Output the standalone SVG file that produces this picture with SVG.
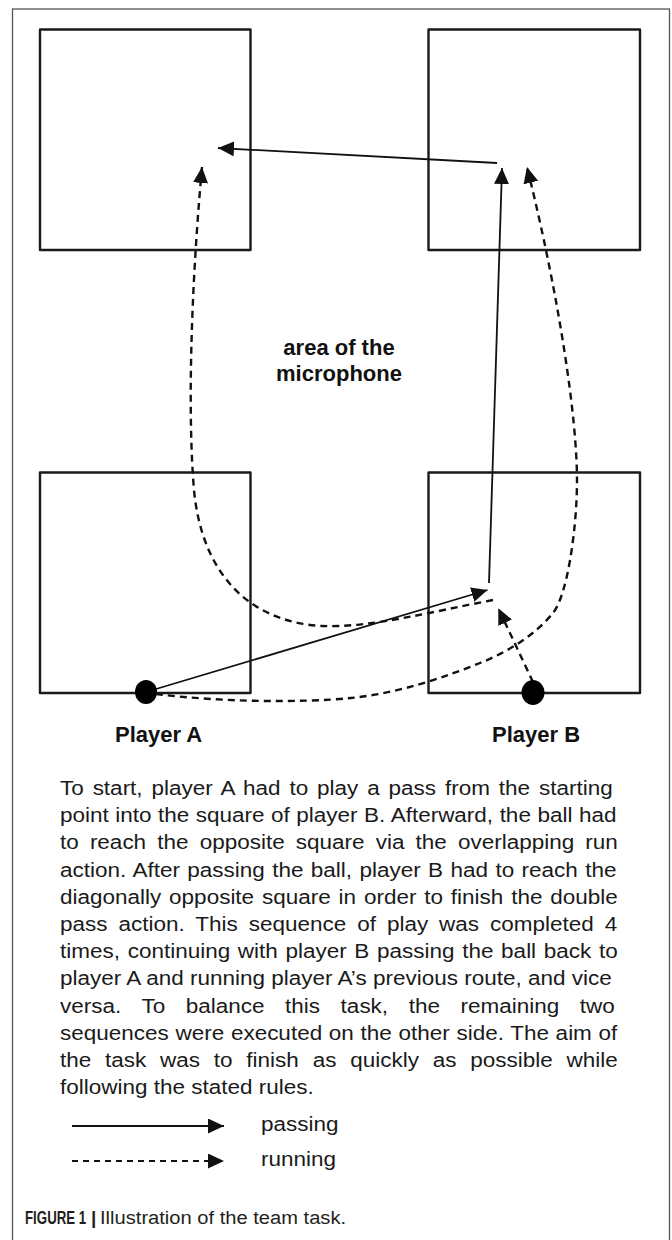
<svg xmlns="http://www.w3.org/2000/svg" width="672" height="1240" viewBox="0 0 672 1240">
<style>
.sq{fill:none;stroke:#1a1a1a;stroke-width:2.4;stroke-linejoin:round}
.pass{fill:none;stroke:#111;stroke-width:1.8}
.run{fill:none;stroke:#111;stroke-width:2.4;stroke-dasharray:7 5}
.lrun{fill:none;stroke:#111;stroke-width:2.2;stroke-dasharray:6 5}
.lbl{font-family:"Liberation Sans",Arial,sans-serif;font-weight:bold;font-size:22px;fill:#111}
.body{font-family:"Liberation Sans",Arial,sans-serif;font-size:21px;fill:#1a1a1a}
.cap{font-family:"Liberation Sans",Arial,sans-serif;font-size:19px;fill:#231f20}
</style>
<defs>
<marker id="ah" markerUnits="userSpaceOnUse" markerWidth="17" markerHeight="16" refX="16" refY="7.5" orient="auto">
<path d="M0,0 L16,7.5 L0,15 Z" fill="#111"/>
</marker>
</defs>
<rect x="12.5" y="9" width="657" height="1250" fill="#fff" stroke="#555" stroke-width="1.3"/>
<g id="square-top-left"><rect class="sq" x="40" y="29.5" width="210.5" height="220.5"/></g>
<g id="square-top-right"><rect class="sq" x="428.5" y="29.5" width="211.5" height="220.5"/></g>
<g id="square-bottom-left"><rect class="sq" x="40" y="472.5" width="210.5" height="220.5"/></g>
<g id="square-bottom-right"><rect class="sq" x="428.5" y="472.5" width="211.5" height="220.5"/></g>
<g id="area-label"><text class="lbl" font-size="23" text-anchor="middle"><tspan x="339" y="355">area of the</tspan><tspan x="339" y="381">microphone</tspan></text></g>
<g id="connectors">
<line class="pass" x1="146" y1="692" x2="487.5" y2="590" marker-end="url(#ah)"/>
<line class="pass" x1="489" y1="583" x2="502" y2="168" marker-end="url(#ah)"/>
<line class="pass" x1="497" y1="163" x2="218" y2="148" marker-end="url(#ah)"/>
<path class="run" d="M493,600 C430,612 370,628 322,626 C250,622 202,575 194,490 C188,420 190,300 202,167" marker-end="url(#ah)"/>
<path class="run" d="M156,694 C220,702 300,703 351,698 C400,693 445,677 480,663 C508,652 535,635 553,613 C567,596 577,530 577,480 C577,420 560,300 527,167" marker-end="url(#ah)"/>
<line class="run" x1="533" y1="682" x2="498.3" y2="608.3" marker-end="url(#ah)"/>
</g>
<g id="player-a"><ellipse cx="146" cy="692" rx="11" ry="12" fill="#000"/><text class="lbl" x="115" y="742">Player A</text></g>
<g id="player-b"><ellipse cx="533" cy="692.5" rx="11.5" ry="12.5" fill="#000"/><text class="lbl" x="492" y="742">Player B</text></g>
<g id="description" transform="translate(60,0) scale(1.0714,1)">
<text class="body" x="0" y="795" word-spacing="2.46">To start, player A had to play a pass from the starting</text>
<text class="body" x="0" y="822.2" word-spacing="0.25">point into the square of player B. Afterward, the ball had</text>
<text class="body" x="0" y="849.4" word-spacing="4.55">to reach the opposite square via the overlapping run</text>
<text class="body" x="0" y="876.6" word-spacing="1.07">action. After passing the ball, player B had to reach the</text>
<text class="body" x="0" y="903.8" word-spacing="1.49">diagonally opposite square in order to finish the double</text>
<text class="body" x="0" y="931" word-spacing="4.4">pass action. This sequence of play was completed 4</text>
<text class="body" x="0" y="958.2" word-spacing="1.32">times, continuing with player B passing the ball back to</text>
<text class="body" x="0" y="985.4" word-spacing="0">player A and running player A’s previous route, and vice</text>
<text class="body" x="0" y="1012.6" word-spacing="13.37">versa. To balance this task, the remaining two</text>
<text class="body" x="0" y="1039.8" word-spacing="0.41">sequences were executed on the other side. The aim of</text>
<text class="body" x="0" y="1067" word-spacing="7.03">the task was to finish as quickly as possible while</text>
<text class="body" x="0" y="1094.2">following the stated rules.</text>
</g>
<g id="legend">
<line class="pass" x1="72" y1="1126" x2="224" y2="1126" marker-end="url(#ah)"/>
<line class="lrun" x1="72" y1="1161" x2="224" y2="1161" marker-end="url(#ah)"/>
<g transform="translate(261,0) scale(1.0714,1)">
<text class="body" x="0" y="1131">passing</text>
<text class="body" x="0" y="1166">running</text>
</g>
</g>
<g id="caption">
<text class="cap" font-weight="bold" transform="translate(25,1224) scale(0.7,1)">FIGURE 1</text>
<text class="cap" font-weight="bold" x="91" y="1224">|</text>
<text class="cap" transform="translate(100,1224) scale(1.06,1)">Illustration of the team task.</text>
</g>
</svg>
